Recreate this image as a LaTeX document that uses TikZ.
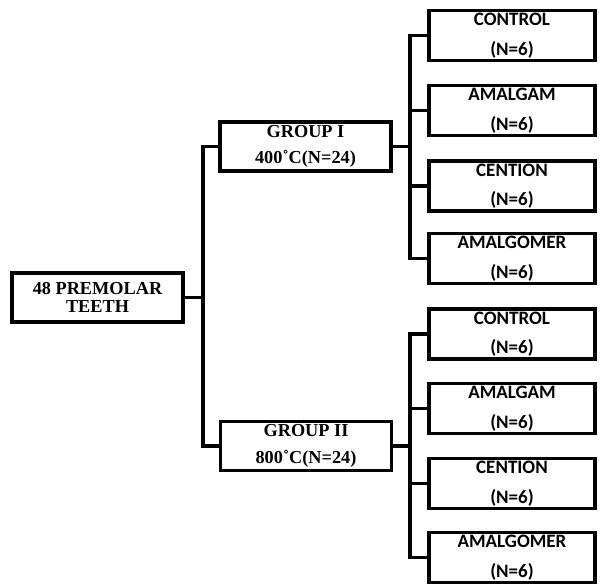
\documentclass[tikz,border=0pt]{standalone}
\usepackage{fontspec}
\setmainfont{Liberation Serif}
\newfontfamily\leaffont{Carlito}

\tikzset{
  wire/.style={line width=2.8pt},
  rootbox/.style={draw, line width=2.8pt, minimum width=4.275cm, minimum height=1.225cm, inner sep=0pt,
    align=center, font=\bfseries\fontsize{13}{12.5}\selectfont},
  grpbox/.style={draw, line width=2.8pt, minimum width=4.275cm, minimum height=1.225cm, inner sep=0pt,
    align=center, font=\bfseries\fontsize{13}{19}\selectfont},
  leafbox/.style={draw, line width=2.8pt, minimum width=4.15cm, minimum height=1.25cm, inner sep=0pt,
    align=center, font=\leaffont\bfseries\fontsize{13.5}{21}\selectfont},
}

\begin{document}
\begin{tikzpicture}[x=0.025cm, y=-0.025cm]
  \useasboundingbox (0,0) rectangle (600,587);

  % root and groups
  \node[rootbox] (root) at (97.5,297.5) {48 PREMOLAR\\TEETH};
  \node[grpbox] (grpI) at (305.5,146.5) {GROUP I\\400˚C(N=24)};
  \node[grpbox] (grpII) at (306,446) {GROUP II\\800˚C(N=24)};

  % leaves of group I
  \node[leafbox] (ctlI) at (512,35.5) {CONTROL\\(N=6)};
  \node[leafbox] (amgI) at (512,110.5) {AMALGAM\\(N=6)};
  \node[leafbox] (cenI) at (512,186) {CENTION\\(N=6)};
  \node[leafbox] (amrI) at (512,258.5) {AMALGOMER\\(N=6)};

  % leaves of group II
  \node[leafbox] (ctlII) at (512,334) {CONTROL\\(N=6)};
  \node[leafbox] (amgII) at (512,408.5) {AMALGAM\\(N=6)};
  \node[leafbox] (cenII) at (512,483.5) {CENTION\\(N=6)};
  \node[leafbox] (amrII) at (512,557.5) {AMALGOMER\\(N=6)};

  % joints
  \coordinate (jRoot) at (203,297.5);
  \coordinate (jI) at (410,146.5);
  \coordinate (jII) at (410,446);

  % root to groups
  \draw[wire] (root.east) -- (jRoot);
  \draw[wire] (grpI.west) -- (grpI.west -| jRoot) -- (grpII.west -| jRoot) -- (grpII.west);

  % group I to leaves
  \draw[wire] (grpI.east) -- (jI);
  \draw[wire] (ctlI.west) -- (ctlI.west -| jI) -- (amrI.west -| jI) -- (amrI.west);
  \draw[wire] (amgI.west) -- (amgI.west -| jI);
  \draw[wire] (cenI.west) -- (cenI.west -| jI);

  % group II to leaves
  \draw[wire] (grpII.east) -- (jII);
  \draw[wire] (ctlII.west) -- (ctlII.west -| jII) -- (amrII.west -| jII) -- (amrII.west);
  \draw[wire] (amgII.west) -- (amgII.west -| jII);
  \draw[wire] (cenII.west) -- (cenII.west -| jII);
\end{tikzpicture}
\end{document}
